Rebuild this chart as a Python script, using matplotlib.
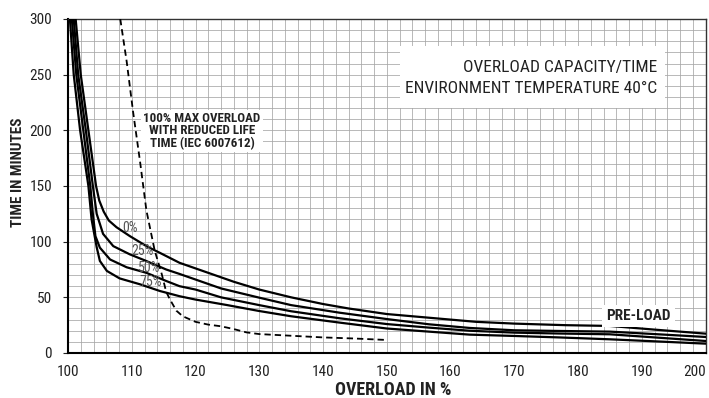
import matplotlib
matplotlib.use('Agg')
import matplotlib.pyplot as plt
from matplotlib import font_manager
from matplotlib.patches import Rectangle
from matplotlib.ticker import MultipleLocator

names = {f.name for f in font_manager.fontManager.ttflist}
NARROW = 'Liberation Sans'
for cand in ['Liberation Sans Narrow', 'Arial Narrow', 'Roboto Condensed', 'Archivo Narrow',
             'PT Sans Narrow', 'Encode Sans Condensed', 'Sofia Sans Condensed']:
    if cand in names:
        NARROW = cand
        break
plt.rcParams['font.family'] = [NARROW, 'DejaVu Sans']

# ---- data (overload %, time in minutes) ----
x_pre0 = [101.2, 102.0, 103.2, 104.4, 104.9, 105.6, 106.4, 107.6, 109.7, 112.3, 114.4, 117.5,
          122, 126, 130, 135, 140, 144, 150, 157, 164, 170, 178, 185, 192, 200]
y_pre0 = [300, 250, 200, 150, 137, 127, 119, 113, 105, 96, 90, 81,
          72, 64, 57, 50, 44, 40, 35, 31.5, 28, 26.4, 25, 24.3, 21, 17.4]

x_pre25 = [100.9, 101.6, 102.8, 103.9, 104.5, 105.5, 107.1, 109.7, 112.3, 115.4, 117.5,
           120, 124, 130, 135, 142.6, 150, 156.6, 163, 170, 177, 185, 192, 200]
y_pre25 = [300, 250, 200, 150, 125, 107, 96, 88.6, 82.6, 75, 71,
           66, 58, 49.7, 43, 36.2, 30.5, 25.8, 22.5, 20.4, 19.8, 19.2, 17, 14.4]

x_pre50 = [100.6, 101.3, 102.4, 103.5, 103.9, 104.3, 105.0, 106.6, 109.2, 112.3, 115.4, 117.5,
           120, 124, 130, 135, 142.6, 150, 156.6, 163, 170, 177, 185, 192, 200]
y_pre50 = [300, 250, 200, 150, 125, 105, 94.6, 84, 77, 72, 64.7, 60,
           57, 50, 43, 37.5, 31.2, 26, 22.8, 20, 18.3, 17.5, 16.8, 14, 10.8]

x_pre75 = [100.3, 100.9, 101.9, 103.2, 103.7, 104.5, 105.0, 106.1, 108.1, 111.3, 114.4, 117.5,
           120, 122, 125, 130, 135, 142.6, 150, 156.6, 163, 170, 177, 185, 192, 200]
y_pre75 = [300, 250, 200, 150, 120, 95, 82.7, 73.7, 67, 61.7, 55.7, 51,
           48, 46, 43, 37.7, 33, 27.3, 22, 19.2, 16.5, 15.3, 14, 12.3, 10.5, 8.4]

x_max = [108.2, 109.2, 110.2, 111.3, 112.3, 113.6, 114.7, 115.4, 116, 117, 118, 120,
         122, 124, 126, 128, 130, 135, 140, 145, 150]
y_max = [300, 262, 217, 172, 128, 92, 71, 55, 48, 38, 33, 28,
         25.5, 24, 21.5, 18.5, 17, 15.5, 14, 13, 11.7]

preload_labels = ['0%', '25%', '50%', '75%']
preload_label_x = [109.7, 111.7, 112.7, 113.0]
preload_label_y = [112.6, 91.6, 76.5, 64.2]

x_ticks = [100, 110, 120, 130, 140, 150, 160, 170, 180, 190, 200]
y_ticks = [0, 50, 100, 150, 200, 250, 300]

# ---- figure ----
W, H = 709, 398
fig = plt.figure(figsize=(W / 100, H / 100), dpi=100)
ax = fig.add_axes([68 / W, 45 / H, (705.5 - 68) / W, (353 - 19) / H])

ax.set_xlim(100, 200)
ax.set_ylim(0, 300)
ax.set_xticks(x_ticks)
ax.set_yticks(y_ticks)
ax.xaxis.set_minor_locator(MultipleLocator(2))
ax.yaxis.set_minor_locator(MultipleLocator(10))
ax.grid(which='both', color='#a6a6a6', linewidth=0.55, zorder=0)
ax.set_axisbelow(True)
ax.tick_params(axis='x', which='major', length=0, pad=9, labelsize=11, colors='#222222')
ax.tick_params(axis='y', which='major', length=3.5, pad=8, labelsize=11, colors='#222222',
               direction='out')
ax.tick_params(which='minor', length=0)
xlabels = ax.get_xticklabels()
xlabels[-1].set_horizontalalignment('right')
for side in ['left', 'bottom']:
    ax.spines[side].set_linewidth(1.5)
    ax.spines[side].set_color('black')
for side in ['top', 'right']:
    ax.spines[side].set_linewidth(1.0)
    ax.spines[side].set_color('#333333')

for xs, ys in [(x_pre0, y_pre0), (x_pre25, y_pre25), (x_pre50, y_pre50), (x_pre75, y_pre75)]:
    ax.plot(xs, ys, color='black', linewidth=1.6, solid_joinstyle='round', zorder=3)

ax.plot(x_max, y_max, color='black', linewidth=1.3, linestyle=(0, (3.5, 2.2)), zorder=3)

for lab, lx, ly in zip(preload_labels, preload_label_x, preload_label_y):
    ax.text(lx, ly, lab, ha='center', va='center', fontsize=10, color='#555555', zorder=4)

ax.text(121, 199.5, '100% MAX OVERLOAD\nWITH REDUCED LIFE\nTIME (IEC 6007612)',
        ha='center', va='center', fontsize=9.4, fontweight='bold', color='#222222',
        linespacing=0.95, zorder=4,
        bbox=dict(facecolor='white', edgecolor='none', pad=1.5))

ax.add_patch(Rectangle((152, 220), 41.7, 56, facecolor='white', edgecolor='none', zorder=2))
ax.text(192.4, 256.5, 'OVERLOAD CAPACITY/TIME', ha='right', va='center', fontsize=12.5,
        color='#222222', zorder=4)
ax.text(192.4, 237.5, 'ENVIRONMENT TEMPERATURE 40°C', ha='right', va='center', fontsize=12.5,
        color='#222222', zorder=4)

ax.text(189.5, 33, 'PRE-LOAD', ha='center', va='center', fontsize=11, fontweight='bold',
        color='#222222', zorder=4,
        bbox=dict(facecolor='white', edgecolor='none', pad=3))

fig.text(18 / W, 1 - 172 / H, 'TIME IN MINUTES', rotation=90, ha='center', va='center',
         fontsize=11, fontweight='bold', color='#222222')
fig.text(393 / W, 1 - 390 / H, 'OVERLOAD IN %', ha='center', va='center',
         fontsize=13, fontweight='bold', color='#222222')

fig.savefig('out.png', dpi=100)
